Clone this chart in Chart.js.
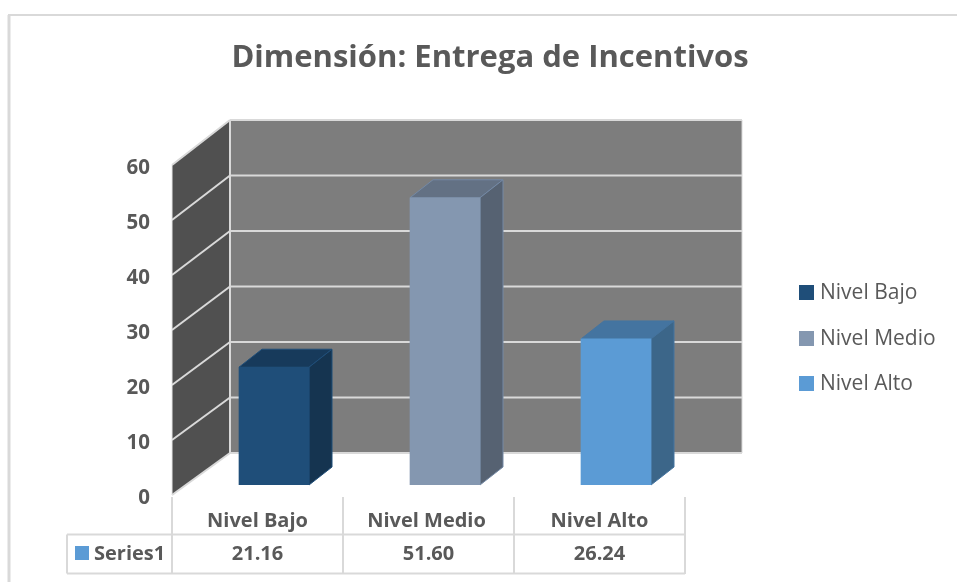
<!DOCTYPE html>
<html>
<head>
<meta charset="utf-8">
<script src="https://cdn.jsdelivr.net/npm/chart.js@4"></script>
<style>
html, body { margin: 0; padding: 0; background: #fff; overflow: hidden; }
canvas { display: block; }
</style>
</head>
<body>
<canvas id="chart" width="957" height="582"></canvas>
<script>
var titleText = "Dimensión: Entrega de Incentivos";
var categories = ["Nivel Bajo", "Nivel Medio", "Nivel Alto"];
var seriesName = "Series1";
var seriesValues = [21.16, 51.60, 26.24];
var tickLabels = [0, 10, 20, 30, 40, 50, 60];
var frontColors = ["#1f4e79", "#8497b0", "#5b9bd5"];
var topColors = ["#173a5b", "#637184", "#4474a0"];
var sideColors = ["#153450", "#566272", "#3c6689"];
var edgeColors = ["#1f4e79", "#7489a5", "#4474a0"];

var textColor = "#595959";
var fontName = "'Open Sans'";
var lineColor = "#d9d9d9";

// depth of the bars and of the side wall
var barDx = 23, barDy = -18;
var wallDx = 58, wallDy = -42;

function poly(c, pts, fill, stroke) {
    c.beginPath();
    c.moveTo(pts[0][0], pts[0][1]);
    for (var i = 1; i < pts.length; i++) c.lineTo(pts[i][0], pts[i][1]);
    c.closePath();
    c.fillStyle = fill;
    c.fill();
    if (stroke) {
        c.strokeStyle = stroke;
        c.lineWidth = 1;
        c.stroke();
    }
}

function seg(c, x1, y1, x2, y2, color, w) {
    c.beginPath();
    c.moveTo(x1, y1);
    c.lineTo(x2, y2);
    c.strokeStyle = color;
    c.lineWidth = w;
    c.stroke();
}

// walls, grid and the bars' side faces go behind the bars
var walls = {
    id: "walls",
    beforeDatasetsDraw: function (chart) {
        var c = chart.ctx;
        var y = chart.scales.y;
        var zero = y.getPixelForValue(0);
        // wall sits a bit below the bar plane and is a touch less tall
        var frontY = function (v) { return 495 + (y.getPixelForValue(v) - zero) * 0.988; };
        var backY = function (v) { return 453 + (y.getPixelForValue(v) - zero) * 0.997; };
        var left = 172, backX = left + wallDx, right = 742;
        var top = tickLabels[tickLabels.length - 1];

        poly(c, [[backX, backY(top)], [right, backY(top)], [right, backY(0)], [backX, backY(0)]], "#7d7d7d");
        poly(c, [[left, frontY(top)], [backX, backY(top)], [backX, backY(0)], [left, frontY(0)]], "#505050");

        tickLabels.forEach(function (v) {
            seg(c, left, frontY(v), backX, backY(v), lineColor, 2);
            seg(c, backX, backY(v), right, backY(v), lineColor, 2);
        });
        seg(c, backX, backY(0), backX, backY(top), lineColor, 2);
        seg(c, right, backY(0), right, backY(top), lineColor, 1);
        seg(c, left, frontY(0), left, frontY(top), "#e8e8e8", 1);

        c.save();
        c.font = "bold 20.5px " + fontName;
        c.fillStyle = textColor;
        c.textAlign = "right";
        c.textBaseline = "middle";
        tickLabels.forEach(function (v) {
            c.fillText(String(v), 150, frontY(v) + 3.5);
        });
        c.restore();

        var bars = chart.getDatasetMeta(0).data;
        bars.forEach(function (b, i) {
            var l = b.x - b.width / 2, r = b.x + b.width / 2;
            poly(c, [[l, b.y], [l + barDx, b.y + barDy], [r + barDx, b.y + barDy], [r, b.y]], topColors[i], edgeColors[i]);
            poly(c, [[r, b.y], [r + barDx, b.y + barDy], [r + barDx, b.base + barDy], [r, b.base]], sideColors[i], edgeColors[i]);
        });
    },
    afterDraw: function (chart) {
        var c = chart.ctx;
        c.save();
        // outer frame
        seg(c, 8, 15, 957, 15, "#d9d9d9", 2);
        seg(c, 9, 15, 9, 582, "#d9d9d9", 3);

        c.fillStyle = textColor;
        c.textBaseline = "middle";

        c.font = "bold 31px " + fontName;
        c.textAlign = "center";
        c.fillText(titleText, 490, 58);

        // legend
        c.font = "21px " + fontName;
        c.textAlign = "left";
        var legendY = [292, 338, 383];
        categories.forEach(function (name, i) {
            c.fillStyle = frontColors[i];
            c.fillRect(799, legendY[i] - 7, 15, 15);
            c.fillStyle = textColor;
            c.fillText(name, 820, legendY[i] + 1);
        });

        // data table under the chart
        var xs = [172, 343, 514, 685];
        xs.forEach(function (x) { seg(c, x, 497, x, 574, lineColor, 2); });
        seg(c, 67, 534.5, 685, 534.5, lineColor, 2);
        seg(c, 67, 573.5, 685, 573.5, lineColor, 2);
        seg(c, 67, 534.5, 67, 573.5, lineColor, 2);

        c.font = "bold 20px " + fontName;
        c.textAlign = "center";
        c.fillStyle = textColor;
        categories.forEach(function (name, i) {
            var cx = (xs[i] + xs[i + 1]) / 2;
            c.fillText(name, cx - (i === 1 ? 2 : 0), 521);
            c.fillText(seriesValues[i].toFixed(2), cx, 554);
        });
        c.fillStyle = "#5b9bd5";
        c.fillRect(75, 546, 14, 14);
        c.fillStyle = textColor;
        c.textAlign = "left";
        c.fillText(seriesName, 94, 554);
        c.restore();
    }
};

new Chart(document.getElementById("chart"), {
    type: "bar",
    data: {
        labels: categories,
        datasets: [{
            label: seriesName,
            data: seriesValues,
            backgroundColor: frontColors,
            barThickness: 70
        }]
    },
    options: {
        responsive: false,
        animation: false,
        layout: { padding: { left: 188.5, right: 255.5, top: 151, bottom: 97 } },
        plugins: {
            legend: { display: false },
            tooltip: { enabled: false }
        },
        scales: {
            x: { display: false },
            y: { display: false, min: 0, max: 60 }
        }
    },
    plugins: [walls]
});
</script>
</body>
</html>
